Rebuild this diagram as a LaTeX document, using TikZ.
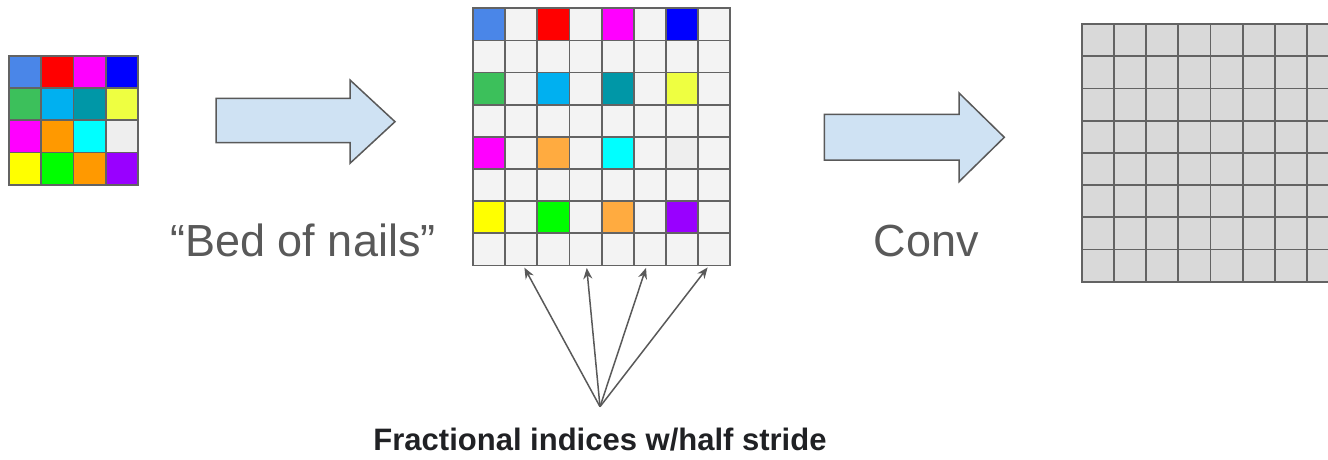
\documentclass[tikz,border=0pt]{standalone}
\usepackage{fontspec}
\setmainfont{Liberation Sans}
\usetikzlibrary{arrows.meta}

\definecolor{cBlue}{HTML}{4A86E8}
\definecolor{cRed}{HTML}{FF0000}
\definecolor{cMag}{HTML}{FF00FF}
\definecolor{cNavy}{HTML}{0000FF}
\definecolor{cGreen}{HTML}{3CC05B}
\definecolor{cSky}{HTML}{00B0F0}
\definecolor{cTeal}{HTML}{0097A7}
\definecolor{cLime}{HTML}{EEFF41}
\definecolor{cOrange}{HTML}{FF9900}
\definecolor{cLorange}{HTML}{FFAB40}
\definecolor{cCyan}{HTML}{00FFFF}
\definecolor{cPale}{HTML}{EEEEEE}
\definecolor{cYellow}{HTML}{FFFF00}
\definecolor{cLgreen}{HTML}{00FF00}
\definecolor{cPurple}{HTML}{9900FF}
\definecolor{cellbg}{HTML}{F3F3F3}
\definecolor{outbg}{HTML}{D9D9D9}
\definecolor{gridline}{HTML}{636363}
\definecolor{arrowfill}{HTML}{CFE2F3}
\definecolor{arrowline}{HTML}{595959}
\definecolor{labelgray}{HTML}{595959}
\definecolor{notecolor}{HTML}{202124}

\begin{document}
\begin{tikzpicture}[x=1pt,y=-1pt,
  cell/.style={draw=gridline, line width=1.8pt, minimum size=#1, inner sep=0pt, outer sep=0pt},
  blockarrow/.style={fill=arrowfill, draw=arrowline, line width=1.5pt, line join=miter},
  pointer/.style={draw=arrowline, line width=1.5pt, -{Stealth[length=11pt,width=9pt]}, shorten >=2.5pt},
  caption/.style={text=labelgray, font=\fontsize{45}{54}\selectfont, anchor=base, inner sep=0pt},
  note/.style={text=notecolor, font=\bfseries\fontsize{31}{37}\selectfont, anchor=base, inner sep=0pt}]

\clip (0,0) rectangle (1328,460);

% input 4x4 grid
\foreach \row [count=\i from 0] in {{cBlue,cRed,cMag,cNavy},{cGreen,cSky,cTeal,cLime},{cMag,cOrange,cCyan,cPale},{cYellow,cLgreen,cOrange,cPurple}}
  \foreach \c [count=\j from 0] in \row
    \node[cell=32.25pt, fill=\c] (L-\i-\j) at ({9+32.25*(\j+0.5)},{55.7+32.25*(\i+0.5)}) {};

% bed of nails 8x8 grid
\foreach \i in {0,...,7}
  \foreach \j in {0,...,7}
    \node[cell=32.15pt, fill=cellbg] (M-\i-\j) at ({473+32.15*(\j+0.5)},{8.3+32.15*(\i+0.5)}) {};
\foreach \row [count=\i from 0] in {{cBlue,cRed,cMag,cNavy},{cGreen,cSky,cTeal,cLime},{cMag,cLorange,cCyan,cPale},{cYellow,cLgreen,cLorange,cPurple}}
  \foreach \c [count=\j from 0] in \row
    \node[cell=32.15pt, fill=\c] (N-\i-\j) at ({473+32.15*(2*\j+0.5)},{8.3+32.15*(2*\i+0.5)}) {};

% output 8x8 grid
\foreach \i in {0,...,7}
  \foreach \j in {0,...,7}
    \node[cell=32.2pt, fill=outbg] (R-\i-\j) at ({1081.7+32.2*(\j+0.5)},{24+32.2*(\i+0.5)}) {};

% block arrows
\draw[blockarrow] (216,98.3) -- (350,98.3) -- (350,80) -- (395,121.7) -- (350,163.3) -- (350,142.7) -- (216,142.7) -- cycle;
\draw[blockarrow] (824.3,114.3) -- (959,114.3) -- (959,93) -- (1004.3,137.3) -- (959,181.7) -- (959,160) -- (824.3,160) -- cycle;

% labels
\node[caption] (bed) at (303,256.5) {“Bed of nails”};
\node[caption] (conv) at (926.5,256) {Conv};
\node[note] (frac) at (600,450) {Fractional indices w/half stride};

% pointers to the half-stride positions
\coordinate (apex) at (600,406.7);
\draw[pointer] (apex) -- ([xshift=2pt]M-7-1.south);
\draw[pointer] (apex) -- ([xshift=1pt]M-7-3.south);
\draw[pointer] (apex) -- ([xshift=-3pt]M-7-5.south);
\draw[pointer] (apex) -- ([xshift=-5pt]M-7-7.south);
\end{tikzpicture}
\end{document}
